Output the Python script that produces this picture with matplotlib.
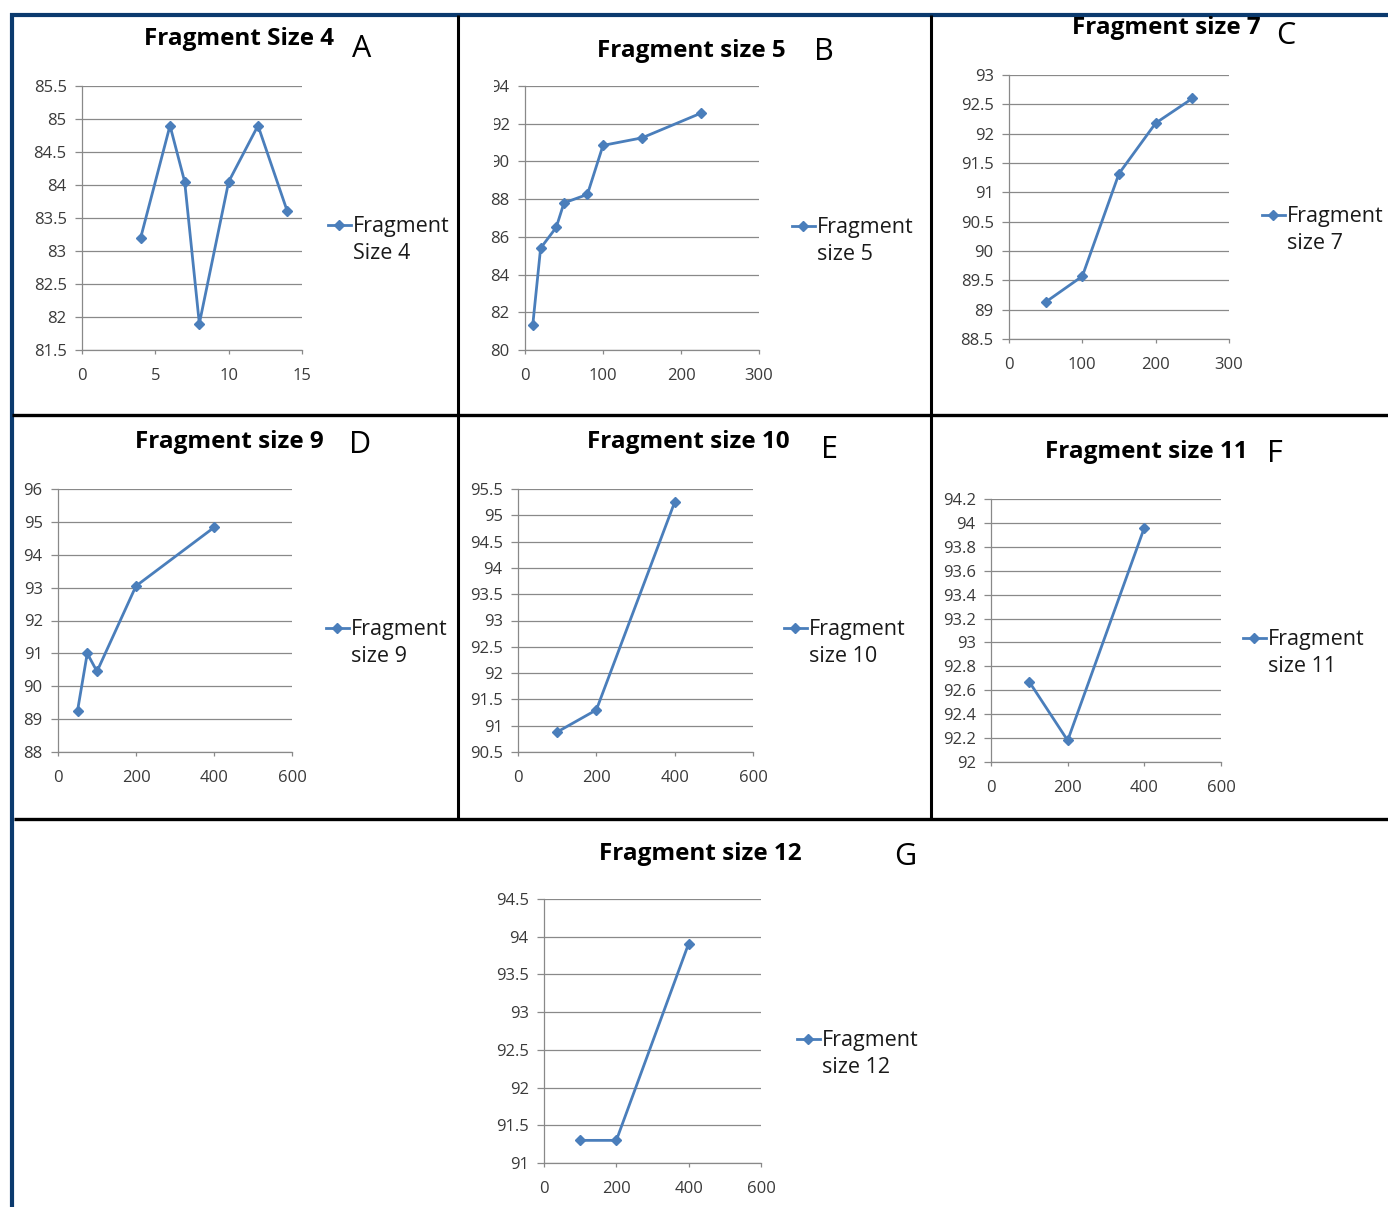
# fragment size panels (A-G), excel-like line charts

# ==============================
# 1. IMPORTS
# ==============================
import matplotlib.pyplot as plt
import numpy as np
from matplotlib.lines import Line2D
from matplotlib.transforms import Bbox, TransformedBbox

# ==============================
# 2. DATA
# ==============================
size4_x = [4, 6, 7, 8, 10, 12, 14]
size4_y = [83.2, 84.9, 84.05, 81.9, 84.05, 84.9, 83.6]
size4_xticks = [0, 5, 10, 15]
size4_yticks = [81.5, 82, 82.5, 83, 83.5, 84, 84.5, 85, 85.5]

size5_x = [10, 20, 40, 50, 80, 100, 150, 225]
size5_y = [81.35, 85.4, 86.5, 87.8, 88.25, 90.85, 91.25, 92.55]
size5_xticks = [0, 100, 200, 300]
size5_yticks = [80, 82, 84, 86, 88, 90, 92, 94]

size7_x = [50, 100, 150, 200, 250]
size7_y = [89.13, 89.57, 91.32, 92.18, 92.6]
size7_xticks = [0, 100, 200, 300]
size7_yticks = [88.5, 89, 89.5, 90, 90.5, 91, 91.5, 92, 92.5, 93]

size9_x = [50, 75, 100, 200, 400]
size9_y = [89.25, 91.0, 90.45, 93.05, 94.83]
size9_xticks = [0, 200, 400, 600]
size9_yticks = [88, 89, 90, 91, 92, 93, 94, 95, 96]

size10_x = [100, 200, 400]
size10_y = [90.88, 91.3, 95.25]
size10_xticks = [0, 200, 400, 600]
size10_yticks = [90.5, 91, 91.5, 92, 92.5, 93, 93.5, 94, 94.5, 95, 95.5]

size11_x = [100, 200, 400]
size11_y = [92.67, 92.18, 93.96]
size11_xticks = [0, 200, 400, 600]
size11_yticks = [92, 92.2, 92.4, 92.6, 92.8, 93, 93.2, 93.4, 93.6, 93.8, 94, 94.2]

size12_x = [100, 200, 400]
size12_y = [91.3, 91.3, 93.91]
size12_xticks = [0, 200, 400, 600]
size12_yticks = [91, 91.5, 92, 92.5, 93, 93.5, 94, 94.5]

titles = ['Fragment Size 4', 'Fragment size 5', 'Fragment size 7', 'Fragment size 9',
          'Fragment size 10', 'Fragment size 11', 'Fragment size 12']
letters = ['A', 'B', 'C', 'D', 'E', 'F', 'G']
legend_second = ['Size 4', 'size 5', 'size 7', 'size 9', 'size 10', 'size 11', 'size 12']

# ==============================
# 3. STYLE
# ==============================
W, H = 1388, 1207
LINE_BLUE = '#4a7ebb'
GRID_GRAY = '#898989'
TICK_TXT = '#3a3a3a'
NAVY = '#0b3a6e'

plt.rcParams['font.family'] = ['Open Sans', 'DejaVu Sans']


def fx(px):
    return px / W


def fy(py):
    return 1 - py / H


def pixel_rect(x0, y0, x1, y1):
    # pixel box (top-left origin) -> fig fraction rect
    return [fx(x0), fy(y1), fx(x1) - fx(x0), fy(y0) - fy(y1)]


fig = plt.figure(figsize=(W / 100, H / 100), dpi=100)


def draw_panel(box, xs, ys, xticks, yticks, title, title_pos, letter, letter_pos,
               second_label, legend_pos):
    ax = fig.add_axes(pixel_rect(*box))
    line, = ax.plot(xs, ys, color=LINE_BLUE, linewidth=2.0, marker='D',
                    markersize=5.2, label='Fragment')

    ax.set_xlim(xticks[0], xticks[-1])
    ax.set_ylim(yticks[0], yticks[-1])
    ax.set_xticks(xticks, [f'{v:g}' for v in xticks])
    ax.set_yticks(yticks, [f'{v:g}' for v in yticks])

    ax.grid(True, axis='y', color=GRID_GRAY, linewidth=0.9)
    ax.set_axisbelow(True)
    for side in ['top', 'right']:
        ax.spines[side].set_visible(False)
    for side in ['left', 'bottom']:
        ax.spines[side].set_color(GRID_GRAY)
        ax.spines[side].set_linewidth(0.9)

    ax.tick_params(axis='y', direction='out', length=5, width=0.9, color=GRID_GRAY,
                   pad=6, labelsize=12, labelcolor=TICK_TXT)
    ax.tick_params(axis='x', direction='out', length=3, width=0.9, color=GRID_GRAY,
                   pad=10, labelsize=12, labelcolor=TICK_TXT)

    # title + panel letter
    fig.text(fx(title_pos[0]), fy(title_pos[1]), title, ha='center', va='baseline',
             fontsize=17.5, fontweight='bold', color='black')
    fig.text(fx(letter_pos[0]), fy(letter_pos[1]), letter, ha='center', va='baseline',
             fontsize=22, color='black')

    # legend: marker line on the first row, wrapped text on the second
    blank = Line2D([], [], linestyle='none')
    ax.legend([line, blank], ['Fragment', second_label], loc='center left',
              bbox_to_anchor=(fx(legend_pos[0]), fy(legend_pos[1])),
              bbox_transform=fig.transFigure, frameon=False, fontsize=15.5,
              handlelength=1.05, handletextpad=0.12, labelspacing=0.25,
              borderpad=0, borderaxespad=0, labelcolor='#1a1a1a')
    return ax


# ==============================
# 4. PANELS
# ==============================
axA = draw_panel((82, 86, 302, 350), size4_x, size4_y, size4_xticks, size4_yticks,
                 titles[0], (239, 45), letters[0], (362, 57), legend_second[0], (328, 240))
axB = draw_panel((525, 86, 759, 350), size5_x, size5_y, size5_xticks, size5_yticks,
                 titles[1], (691, 57), letters[1], (824, 60), legend_second[1], (792, 241))
axC = draw_panel((1009, 75, 1229, 339), size7_x, size7_y, size7_xticks, size7_yticks,
                 titles[2], (1166, 34), letters[2], (1286, 44), legend_second[2], (1262, 230))
axD = draw_panel((58, 489, 292, 752), size9_x, size9_y, size9_xticks, size9_yticks,
                 titles[3], (229, 448), letters[3], (360, 453), legend_second[3], (326, 643))
axE = draw_panel((518, 489, 753, 752), size10_x, size10_y, size10_xticks, size10_yticks,
                 titles[4], (688, 448), letters[4], (829, 458), legend_second[4], (784, 643))
axF = draw_panel((991, 499, 1221, 762), size11_x, size11_y, size11_xticks, size11_yticks,
                 titles[5], (1146, 458), letters[5], (1275, 462), legend_second[5], (1243, 653))
axG = draw_panel((544, 899, 761, 1163), size12_x, size12_y, size12_xticks, size12_yticks,
                 titles[6], (700, 860), letters[6], (905, 865), legend_second[6], (797, 1054))

# top labels of panel B are cut off on their left side in the original
clip = TransformedBbox(Bbox.from_extents(fx(494), 0, 1, 1), fig.transFigure)
for tick in axB.yaxis.get_major_ticks():
    if tick.get_loc() >= 90:
        tick.label1.set_clip_box(clip)
        tick.label1.set_clip_on(True)

# ==============================
# 5. FRAME LINES
# ==============================
def frame_line(x0, y0, x1, y1, color, lw):
    fig.add_artist(Line2D([fx(x0), fx(x1)], [fy(y0), fy(y1)], color=color,
                          linewidth=lw, transform=fig.transFigure,
                          solid_capstyle='butt'))


frame_line(10, 15, W, 15, NAVY, 3.0)       # top
frame_line(12, 13, 12, H, NAVY, 3.0)       # left
frame_line(12, 415, W, 415, 'black', 2.4)
frame_line(14, 819, W, 819, 'black', 2.4)
frame_line(457.5, 15, 457.5, 819, 'black', 2.2)
frame_line(930.5, 15, 930.5, 820, 'black', 2.2)

plt.savefig('out.png', dpi=100)
plt.close(fig)
